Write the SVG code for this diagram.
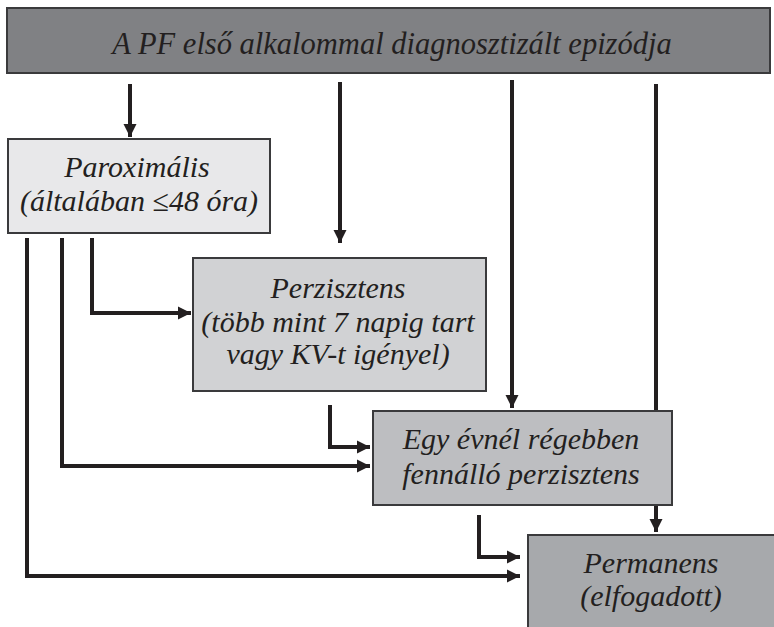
<svg xmlns="http://www.w3.org/2000/svg" width="774" height="627" viewBox="0 0 774 627">
<defs>
<marker id="ah" viewBox="0 0 10 10" refX="10" refY="5" markerWidth="3.3" markerHeight="3.3" markerUnits="strokeWidth" orient="auto">
<path d="M0,0 L10,5 L0,10 Z" fill="#231f20"/>
</marker>
<style>
.box{stroke:#3a3a3c;stroke-width:2}
.t{font-family:"Liberation Serif","Times New Roman",serif;font-style:italic;fill:#231f20;text-anchor:middle;font-size:30px}
.c{fill:none;stroke:#231f20;stroke-width:4;stroke-linejoin:miter;stroke-linecap:butt}
</style>
</defs>
<rect width="774" height="627" fill="#ffffff"/>
<g id="connectors">
<path class="c" d="M130,84 V137" marker-end="url(#ah)"/>
<path class="c" d="M340,82 V243" marker-end="url(#ah)"/>
<path class="c" d="M512,80 V408" marker-end="url(#ah)"/>
<path class="c" d="M656,84 V532" marker-end="url(#ah)"/>
<path class="c" d="M92,238 V313 H191" marker-end="url(#ah)"/>
<path class="c" d="M62,238 V466 H370" marker-end="url(#ah)"/>
<path class="c" d="M27,238 V576 H520" marker-end="url(#ah)"/>
<path class="c" d="M330,405 V447 H370" marker-end="url(#ah)"/>
<path class="c" d="M479,515 V557 H520" marker-end="url(#ah)"/>
</g>
<g id="n0">
<rect class="box" x="7" y="8" width="763" height="65" fill="#808184"/>
<text class="t" x="392" y="54" style="font-size:30.5px">A PF első alkalommal diagnosztizált epizódja</text>
</g>
<g id="n1">
<rect class="box" x="8" y="139" width="262" height="94" fill="#e8e8ea"/>
<text class="t" x="137" y="177">Paroximális</text>
<text class="t" x="139" y="211">(általában ≤48 óra)</text>
</g>
<g id="n2">
<rect class="box" x="193" y="258" width="293" height="133" fill="#d1d2d4"/>
<text class="t" x="338" y="298">Perzisztens</text>
<text class="t" x="338" y="332">(több mint 7 napig tart</text>
<text class="t" x="338" y="364">vagy KV-t igényel)</text>
</g>
<g id="n3">
<rect class="box" x="373" y="411" width="299" height="94" fill="#bdbec1"/>
<text class="t" x="521" y="449">Egy évnél régebben</text>
<text class="t" x="521" y="484">fennálló perzisztens</text>
</g>
<g id="n4">
<rect class="box" x="528" y="535" width="250" height="100" fill="#a7a9ac"/>
<text class="t" x="651" y="573">Permanens</text>
<text class="t" x="651" y="606">(elfogadott)</text>
</g>
</svg>
